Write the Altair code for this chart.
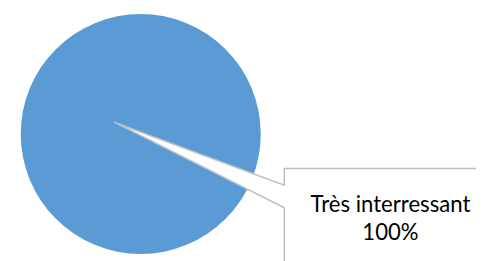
import altair as alt
import pandas as pd

# Data
categories = ["Très interressant"]
values = [100]
labels = ["Très interressant", "100%"]

W, H = 476, 253

pie_df = pd.DataFrame({"category": categories, "value": values})

pie = alt.Chart(pie_df).mark_arc(
    radius=122, x=135, y=126, color="#5B9BD5", stroke=None
).encode(
    theta=alt.Theta("value:Q", stack=True),
)

# Callout geometry (styling constants, chart pixel coordinates)
tip = (108, 114)
bx = 281
by_top = 161
gap_top, gap_bot = 178, 201

xs = alt.Scale(domain=[0, W], range=[0, W], nice=False, zero=False)
ys = alt.Scale(domain=[0, H], range=[0, H], nice=False, zero=False)

wedge_df = pd.DataFrame({
    "x": [tip[0], bx],
    "y": [tip[1], gap_top],
    "y2": [tip[1], gap_bot],
})
wedge = alt.Chart(wedge_df).mark_area(color="white", opacity=1).encode(
    x=alt.X("x:Q", scale=xs, axis=None),
    y=alt.Y("y:Q", scale=ys, axis=None),
    y2="y2:Q",
)

box_df = pd.DataFrame({"x": [bx], "x2": [W + 5], "y": [by_top], "y2": [H + 5]})
box = alt.Chart(box_df).mark_rect(color="white").encode(
    x=alt.X("x:Q", scale=xs, axis=None), x2="x2:Q",
    y=alt.Y("y:Q", scale=ys, axis=None), y2="y2:Q",
)

outline_df = pd.DataFrame({
    "x": [bx, bx, tip[0], bx, bx, W + 5],
    "y": [H + 5, gap_bot, tip[1], gap_top, by_top, by_top],
    "o": list(range(6)),
})
outline = alt.Chart(outline_df).mark_line(color="#BFBFBF", strokeWidth=1.5).encode(
    x=alt.X("x:Q", scale=xs, axis=None),
    y=alt.Y("y:Q", scale=ys, axis=None),
    order="o:O",
)

text_df = pd.DataFrame({"t": labels, "x": [389, 389], "y": [205, 234]})
text = alt.Chart(text_df).mark_text(
    font="Lato", fontSize=22.5, color="#000000", baseline="alphabetic", align="center"
).encode(
    x=alt.X("x:Q", scale=xs, axis=None),
    y=alt.Y("y:Q", scale=ys, axis=None),
    text="t:N",
)

chart = alt.layer(pie, wedge, box, outline, text).properties(
    width=W, height=H, padding=0, autosize=alt.AutoSizeParams(type="none")
).configure_view(stroke=None)

chart.save("out.html", embed_options={"renderer": "svg", "actions": False})
